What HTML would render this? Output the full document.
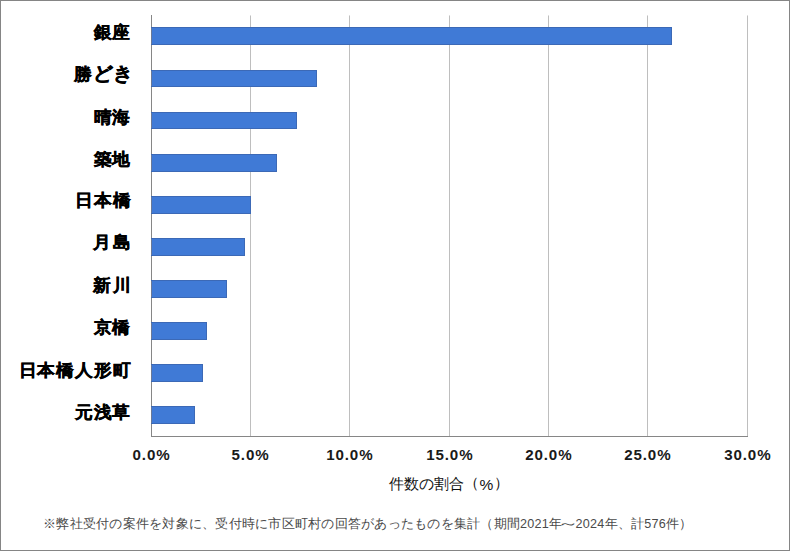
<!DOCTYPE html>
<html><head><meta charset="utf-8"><style>
html,body{margin:0;padding:0;background:#fff;}
body{width:790px;height:551px;position:relative;overflow:hidden;font-family:"Liberation Sans",sans-serif;}
.frame{position:absolute;left:0;top:0;width:788px;height:549px;border:1px solid #858585;}
svg{position:absolute;left:0;top:0;}
.yl{position:absolute;right:659.5px;transform:scaleY(0.96);transform-origin:50% 50%;height:26px;line-height:26px;font-size:17.8px;letter-spacing:0.87px;margin-right:-0.87px;font-weight:bold;color:#000;white-space:nowrap;-webkit-text-stroke:0.45px #000;}
.xt{position:absolute;top:445px;width:80px;text-align:center;font-size:14px;font-weight:bold;color:#1a1a1a;line-height:20px;}
.xt span{display:inline-block;letter-spacing:0.8px;transform:scaleX(1.08);margin-right:-0.8px;}
.at{position:absolute;font-size:15px;color:#111;line-height:20px;white-space:nowrap;}
.fn{position:absolute;left:43px;top:515px;font-size:12.6px;color:#4a4a4a;line-height:18px;white-space:nowrap;letter-spacing:0.25px;}
</style></head><body>
<div class="frame"></div>
<svg width="790" height="551" viewBox="0 0 790 551" shape-rendering="crispEdges">
<rect x="250" y="16" width="1" height="420" fill="#bebebe"/>
<rect x="250" y="15" width="1" height="1" fill="#dcdcdc"/>
<rect x="349" y="16" width="1" height="420" fill="#bebebe"/>
<rect x="349" y="15" width="1" height="1" fill="#dcdcdc"/>
<rect x="449" y="16" width="1" height="420" fill="#bebebe"/>
<rect x="449" y="15" width="1" height="1" fill="#dcdcdc"/>
<rect x="548" y="16" width="1" height="420" fill="#bebebe"/>
<rect x="548" y="15" width="1" height="1" fill="#dcdcdc"/>
<rect x="647" y="16" width="1" height="420" fill="#bebebe"/>
<rect x="647" y="15" width="1" height="1" fill="#dcdcdc"/>
<rect x="747" y="16" width="1" height="420" fill="#bebebe"/>
<rect x="747" y="15" width="1" height="1" fill="#dcdcdc"/>
<rect x="151" y="15" width="1" height="422" fill="#868686"/>
<rect x="151" y="27" width="521" height="18" fill="#3c69b6"/>
<rect x="151" y="28" width="1" height="16" fill="#6a7896"/>
<rect x="152" y="28" width="519" height="16" fill="#407ad6"/>
<rect x="151" y="70" width="166" height="17" fill="#3c69b6"/>
<rect x="151" y="71" width="1" height="15" fill="#6a7896"/>
<rect x="152" y="71" width="164" height="15" fill="#407ad6"/>
<rect x="151" y="112" width="146" height="17" fill="#3c69b6"/>
<rect x="151" y="113" width="1" height="15" fill="#6a7896"/>
<rect x="152" y="113" width="144" height="15" fill="#407ad6"/>
<rect x="151" y="154" width="126" height="18" fill="#3c69b6"/>
<rect x="151" y="155" width="1" height="16" fill="#6a7896"/>
<rect x="152" y="155" width="124" height="16" fill="#407ad6"/>
<rect x="151" y="196" width="100" height="18" fill="#3c69b6"/>
<rect x="151" y="197" width="1" height="16" fill="#6a7896"/>
<rect x="152" y="197" width="98" height="16" fill="#407ad6"/>
<rect x="151" y="238" width="94" height="18" fill="#3c69b6"/>
<rect x="151" y="239" width="1" height="16" fill="#6a7896"/>
<rect x="152" y="239" width="92" height="16" fill="#407ad6"/>
<rect x="151" y="280" width="76" height="18" fill="#3c69b6"/>
<rect x="151" y="281" width="1" height="16" fill="#6a7896"/>
<rect x="152" y="281" width="74" height="16" fill="#407ad6"/>
<rect x="151" y="322" width="56" height="18" fill="#3c69b6"/>
<rect x="151" y="323" width="1" height="16" fill="#6a7896"/>
<rect x="152" y="323" width="54" height="16" fill="#407ad6"/>
<rect x="151" y="364" width="52" height="18" fill="#3c69b6"/>
<rect x="151" y="365" width="1" height="16" fill="#6a7896"/>
<rect x="152" y="365" width="50" height="16" fill="#407ad6"/>
<rect x="151" y="406" width="44" height="18" fill="#3c69b6"/>
<rect x="151" y="407" width="1" height="16" fill="#6a7896"/>
<rect x="152" y="407" width="42" height="16" fill="#407ad6"/>
<rect x="151" y="436" width="597" height="1" fill="#868686"/>
</svg>
<div class="yl" style="top:19.30px;">銀座</div>
<div class="yl" style="top:60.04px;right:658.30px;">勝<span style="font-size:19.5px;letter-spacing:0px;vertical-align:0.5px">どき</span></div>
<div class="yl" style="top:103.78px;">晴海</div>
<div class="yl" style="top:145.62px;">築地</div>
<div class="yl" style="top:186.66px;right:658.80px;">日本橋</div>
<div class="yl" style="top:228.80px;right:658.50px;letter-spacing:2.87px;margin-right:-2.87px;">月島</div>
<div class="yl" style="top:271.54px;right:658.50px;letter-spacing:2.07px;margin-right:-2.07px;">新川</div>
<div class="yl" style="top:314.18px;">京橋</div>
<div class="yl" style="top:356.72px;right:659.00px;">日本橋人形町</div>
<div class="yl" style="top:398.81px;">元浅草</div>
<div class="xt" style="left:111px"><span>0.0%</span></div>
<div class="xt" style="left:210px"><span>5.0%</span></div>
<div class="xt" style="left:309px"><span>10.0%</span></div>
<div class="xt" style="left:409px"><span>15.0%</span></div>
<div class="xt" style="left:508px"><span>20.0%</span></div>
<div class="xt" style="left:607px"><span>25.0%</span></div>
<div class="xt" style="left:707px"><span>30.0%</span></div>
<div class="at" style="left:389px;top:473.5px">件数の割合</div>
<div class="at" style="left:464px;top:472.5px">（</div>
<div class="at" style="left:479.5px;top:474.5px;font-size:15.5px">%</div>
<div class="at" style="left:493.5px;top:472.5px">）</div>
<div class="fn">※弊社受付の案件を対象に、受付時に市区町村の回答があったものを集計（期間2021年<span style="display:inline-block;transform:scale(1.7,1)">～</span>2024年、計576件）</div>
</body></html>
